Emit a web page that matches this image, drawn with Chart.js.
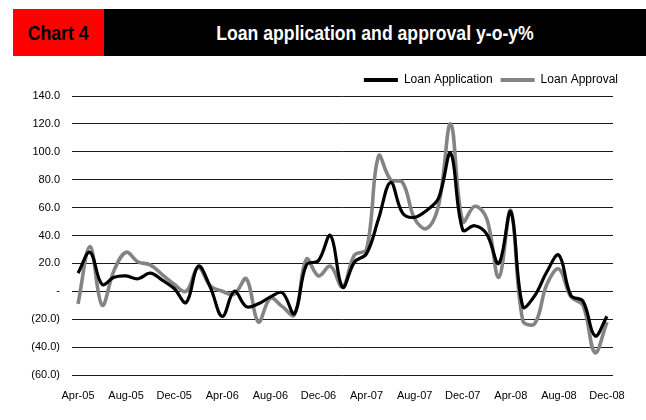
<!DOCTYPE html>
<html>
<head>
<meta charset="utf-8">
<script src="https://cdn.jsdelivr.net/npm/chart.js@4.4.1/dist/chart.umd.min.js"></script>
<style>
  html, body { margin: 0; padding: 0; background: #ffffff; }
  #wrap { position: relative; width: 646px; height: 420px; overflow: hidden; }
  .hdr { position: absolute; top: 9px; height: 47px; display: flex; align-items: center; justify-content: center;
    font: bold 21px "Liberation Sans", Arial, sans-serif; z-index: 2; }
  .hdr span { display: inline-block; transform: scaleX(0.84); transform-origin: center; white-space: nowrap; }
  #hdr-red { left: 13px; width: 91px; background: #ff0000; color: #000; }
  #hdr-black { left: 104px; width: 542px; background: #000; color: #fff; }
  canvas { position: absolute; left: 0; top: 0; }
</style>
</head>
<body>
<div id="wrap">
  <div class="hdr" id="hdr-red"><span>Chart 4</span></div>
  <div class="hdr" id="hdr-black"><span>Loan application and approval y-o-y%</span></div>
  <canvas id="c" width="646" height="420"></canvas>
</div>
<script>
const categories = [
  "Apr-05","May-05","Jun-05","Jul-05","Aug-05","Sep-05","Oct-05","Nov-05","Dec-05",
  "Jan-06","Feb-06","Mar-06","Apr-06","May-06","Jun-06","Jul-06","Aug-06","Sep-06","Oct-06","Nov-06","Dec-06",
  "Jan-07","Feb-07","Mar-07","Apr-07","May-07","Jun-07","Jul-07","Aug-07","Sep-07","Oct-07","Nov-07","Dec-07",
  "Jan-08","Feb-08","Mar-08","Apr-08","May-08","Jun-08","Jul-08","Aug-08","Sep-08","Oct-08","Nov-08","Dec-08"
];
const loanApplication = [
  13, 28, 5, 10, 11, 9, 13, 8, 2,
  -8, 18, 3, -18, 0, -11, -9, -4, -1, -16, 19, 22,
  40, 3, 21, 27, 52, 78, 56, 53, 58, 67, 99, 44,
  47, 41, 20, 57, -11, -3, 14, 26, -3, -7, -32, -18
];
const loanApproval = [
  -9, 32, -10, 15, 28, 21, 19, 12, 5,
  0, 17, 4, 0, -2, 9, -22, -5, -11, -17, 23, 11,
  18, 3, 26, 30, 97, 80, 78, 52, 45, 62, 120, 50,
  61, 52, 10, 58, -21, -23, 5, 16, -4, -10, -44, -22
];
const shownTickLabels = ["Apr-05","Aug-05","Dec-05","Apr-06","Aug-06","Dec-06","Apr-07","Aug-07","Dec-07","Apr-08","Aug-08","Dec-08"];
const yMin = -60, yMax = 140, yStep = 20;

const FONT = '"Liberation Sans", Arial, sans-serif';

const legendShift = {
  id: 'legendShift',
  afterLayout(chart) {
    if (chart.legend) { chart.legend.left += 13; chart.legend.right += 13; }
  }
};

new Chart(document.getElementById('c'), {
  type: 'line',
  data: {
    labels: categories,
    datasets: [
      { label: 'Loan Application', data: loanApplication, borderColor: '#000000', backgroundColor: '#000000',
        borderWidth: 3.2, pointRadius: 0, tension: 0.38, fill: false, order: 1 },
      { label: 'Loan Approval', data: loanApproval, borderColor: '#848484', backgroundColor: '#848484',
        borderWidth: 3.6, pointRadius: 0, tension: 0.38, fill: false, order: 2 }
    ]
  },
  plugins: [legendShift],
  options: {
    responsive: false,
    animation: false,
    events: [],
    layout: { padding: { top: 66, right: 33, bottom: 0, left: 0 } },
    plugins: {
      tooltip: { enabled: false },
      legend: {
        display: true,
        position: 'top',
        align: 'end',
        labels: {
          boxWidth: 34,
          boxHeight: 4,
          padding: 8,
          color: '#000',
          font: { family: FONT, size: 12 },
          generateLabels: (chart) => chart.data.datasets.map((ds, i) => ({
            text: ds.label, fillStyle: ds.borderColor, strokeStyle: ds.borderColor,
            lineWidth: 0, hidden: false, datasetIndex: i, fontColor: '#000'
          }))
        }
      }
    },
    scales: {
      x: {
        type: 'category',
        offset: true,
        grid: { display: false, drawTicks: false },
        border: { display: false },
        ticks: {
          autoSkip: false, maxRotation: 0, minRotation: 0, padding: 14,
          color: '#000', font: { family: FONT, size: 11 },
          callback: function (val, idx) {
            const lab = this.getLabelForValue(val);
            return shownTickLabels.includes(lab) ? lab : '';
          }
        },
        afterFit: (s) => { s.height = 45; }
      },
      y: {
        min: yMin, max: yMax,
        grid: { color: '#1a1a1a', lineWidth: 1, drawTicks: false },
        border: { display: false },
        ticks: {
          stepSize: yStep, padding: 12, color: '#000', font: { family: FONT, size: 11 },
          callback: (v) => {
            if (v === 0) return '-';
            if (v < 0) return '(' + Math.abs(v).toFixed(1) + ')';
            return v.toFixed(1);
          }
        },
        afterFit: (s) => { s.width = 72; }
      }
    }
  }
});
</script>
</body>
</html>
